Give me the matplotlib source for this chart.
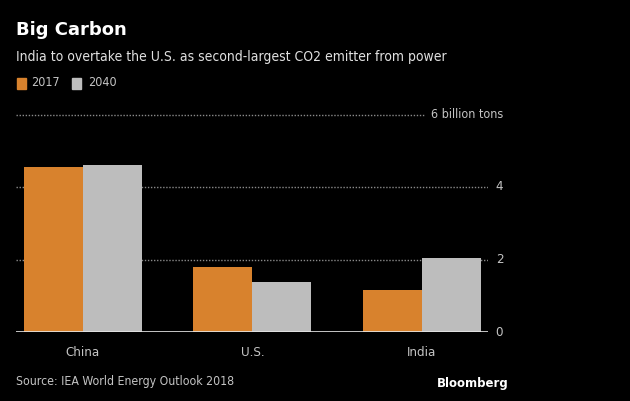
import matplotlib.pyplot as plt
import numpy as np

# data (billion tons CO2 from power)
countries = ["China", "U.S.", "India"]
vals_2017 = [4.56, 1.78, 1.15]
vals_2040 = [4.62, 1.39, 2.05]
yticks = [0, 2, 4, 6]
ytick_labels = ["0", "2", "4", "6 billion tons"]

orange = "#d8822d"
grey = "#bdbdbd"
bg = "#000000"
txt = dict(family="DejaVu Sans", stretch="condensed")

fig = plt.figure(figsize=(6.3, 4.01), dpi=100, facecolor=bg)
W, H = 630, 401
# axes: x 16..488 px, y 0 at 332 px, 6 at 114.5 px
ax = fig.add_axes([16 / W, (H - 332) / H, (488 - 16) / W, (332 - 114.5) / H])
ax.set_facecolor(bg)

x = np.arange(len(countries))
w = 0.348
ax.bar(x - w / 2, vals_2017, w, color=orange, zorder=2)
ax.bar(x + w / 2, vals_2040, w, color=grey, zorder=2)

ax.set_xlim(-0.395, 2.39)
ax.set_ylim(0, 6)

for s in ax.spines.values():
    s.set_visible(False)
ax.axhline(0, color="#e6e6e6", lw=1.2, zorder=3)
for yv in [2, 4]:
    ax.axhline(yv, color="#8a8a8a", lw=1, ls=(0, (1, 1.2)), zorder=1)
ax.plot([-0.395, 2.02], [6, 6], color="#8a8a8a", lw=1, ls=(0, (1, 1.2)), zorder=1,
        clip_on=False)

ax.set_yticks([])
for yv, lab in zip(yticks, ytick_labels):
    if yv == 6:
        ax.text(2.48, yv, lab, color="#c4c4c4", fontsize=9, **txt,
                ha="right", va="center", clip_on=False)
    else:
        ax.text(2.435, yv, lab, color="#c4c4c4", fontsize=9.5, **txt,
                ha="left", va="center", clip_on=False)

ax.set_xticks(x)
ax.set_xticklabels(countries, color="#c4c4c4", fontsize=9.5, **txt)
ax.tick_params(axis="x", length=0, pad=10)

fig.text(16 / W, 1 - 30 / H, "Big Carbon", color="white", fontsize=13,
         fontweight="bold", va="center", ha="left")
fig.text(16 / W, 1 - 57 / H,
         "India to overtake the U.S. as second-largest CO2 emitter from power",
         color="#e0e0e0", fontsize=10, **txt, va="center", ha="left")

# legend
fig.patches.append(plt.Rectangle((17 / W, 1 - 89 / H), 9 / W, 11 / H,
                                 transform=fig.transFigure, color=orange))
fig.text(31 / W, 1 - 83 / H, "2017", color="#c4c4c4", fontsize=9,
         **txt, va="center")
fig.patches.append(plt.Rectangle((72 / W, 1 - 89 / H), 9 / W, 11 / H,
                                 transform=fig.transFigure, color=grey))
fig.text(88 / W, 1 - 83 / H, "2040", color="#c4c4c4", fontsize=9,
         **txt, va="center")

fig.text(16 / W, 1 - 381 / H, "Source: IEA World Energy Outlook 2018",
         color="#c4c4c4", fontsize=8.8, **txt, va="center")
fig.text(509 / W, 1 - 383 / H, "Bloomberg", color="white", fontsize=8.5,
         fontweight="bold", va="center", ha="right")

fig.savefig("out.png", dpi=100, facecolor=bg)
